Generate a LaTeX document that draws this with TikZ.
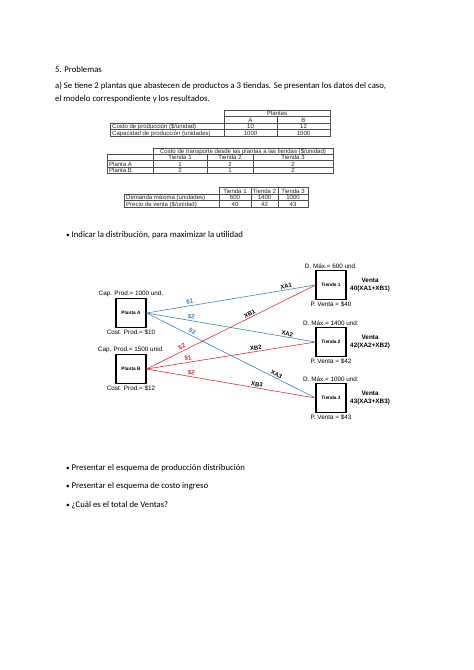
\documentclass[tikz,border=0pt]{standalone}
\usepackage{fontspec}
\setmainfont{Carlito}
\newfontfamily\tablefont{Liberation Sans}
\usetikzlibrary{positioning}
\definecolor{flowblue}{HTML}{3F86BC}
\definecolor{flowred}{HTML}{D7343F}
\definecolor{rulegray}{HTML}{4D4D4D}
\tikzset{
  para/.style={anchor=base west, inner sep=0pt, font=\fontsize{11}{13}\selectfont},
  cell/.style={inner sep=0pt, text height=0.72em, text depth=0.1em, text=black!85,
    font=\tablefont\fontsize{7.6}{8}\selectfont},
  tabrule/.style={draw=rulegray, line width=0.45pt},
  sitebox/.style={draw, line width=1.3pt, minimum width=1.33cm, minimum height=1.28cm,
    inner sep=0pt, font=\tablefont\bfseries\fontsize{6}{7}\selectfont},
  note/.style={inner sep=0.5pt, font=\tablefont\fontsize{8}{9}\selectfont},
  sale/.style={inner sep=0.5pt, align=center, font=\tablefont\bfseries\fontsize{8}{10}\selectfont},
  flowA/.style={draw=flowblue, line width=0.75pt},
  flowB/.style={draw=flowred, line width=0.75pt},
  cost/.style={sloped, above, inner sep=1.5pt, font=\tablefont\bfseries\fontsize{8}{8}\selectfont},
  qty/.style={sloped, above, inner sep=1.5pt, font=\tablefont\bfseries\fontsize{7.5}{8}\selectfont}
}

\begin{document}
\begin{tikzpicture}[x=0.04432cm, y=-0.04432cm]
  \fill[white] (0,0) rectangle (474,670);
  \useasboundingbox (0,0) rectangle (474,670);

  % text of the page
  \node[para] (title) at (55,72) {5. Problemas};
  \node[para] (intro1) at (55,88) {a) Se tiene 2 plantas que abastecen de productos a 3 tiendas. Se presentan los datos del caso,};
  \node[para] (intro2) at (55,101) {el modelo correspondiente y los resultados.};

  % table: plantas
  \draw[tabrule] (224,110) rectangle (330,136);
  \draw[tabrule] (110,123) rectangle (224,136);
  \draw[tabrule] (224,116.5) -- (330,116.5) (224,123) -- (330,123)
    (110,129.5) -- (330,129.5) (277,116.5) -- (277,136);
  \node[cell] (plantas) at (277,113.25) {Plantas};
  \node[cell] (colA) at (250.5,119.75) {A};
  \node[cell] (colB) at (303.5,119.75) {B};
  \node[cell, anchor=west] (costrow) at (112,126.25) {Costo de producción (\$/unidad)};
  \node[cell, anchor=west] (caprow) at (112,132.75) {Capacidad de producción (unidades)};
  \foreach \v/\x/\y [count=\i] in {10/250.5/126.25, 12/303.5/126.25, 1000/250.5/132.75, 1500/303.5/132.75}
    \node[cell] (pv\i) at (\x,\y) {\v};

  % table: transporte
  \draw[tabrule] (153,148) rectangle (333,154.3);
  \draw[tabrule] (107,154.3) rectangle (333,173.2);
  \draw[tabrule] (107,160.6) -- (333,160.6) (107,166.9) -- (333,166.9)
    (153,154.3) -- (153,173.2) (207,154.3) -- (207,173.2) (253,154.3) -- (253,173.2);
  \node[cell] (transp) at (243,151.15) {Costo de transporte desde las plantas a las tiendas (\$/unidad)};
  \foreach \x [count=\i] in {180,230,293}
    \node[cell] (th\i) at (\x,157.45) {Tienda \i};
  \node[cell, anchor=west] (rowA) at (109,163.75) {Planta A};
  \node[cell, anchor=west] (rowB) at (109,170.05) {Planta B};
  \foreach \v/\x/\y [count=\i] in {1/180/163.75, 2/230/163.75, 2/293/163.75, 2/180/170.05, 1/230/170.05, 2/293/170.05}
    \node[cell] (tv\i) at (\x,\y) {\v};

  % table: demanda y precio
  \draw[tabrule] (219,187.5) rectangle (308,207);
  \draw[tabrule] (124,194) rectangle (219,207);
  \draw[tabrule] (219,194) -- (308,194) (124,200.5) -- (308,200.5)
    (251,187.5) -- (251,207) (278,187.5) -- (278,207);
  \foreach \x [count=\i] in {235,264.5,293}
    \node[cell] (dh\i) at (\x,190.75) {Tienda \i};
  \node[cell, anchor=west] (demrow) at (126,197.25) {Demanda máxima (unidades)};
  \node[cell, anchor=west] (prirow) at (126,203.75) {Precio de venta (\$/unidad)};
  \foreach \v/\x/\y [count=\i] in {600/235/197.25, 1400/264.5/197.25, 1000/293/197.25, 40/235/203.75, 42/264.5/203.75, 43/293/203.75}
    \node[cell] (dv\i) at (\x,\y) {\v};

  \node[para] (task1) at (66,237) {{\small\textbullet} Indicar la distribución, para maximizar la utilidad};

  % plantas y tiendas
  \node[sitebox] (plantA) at (131,313) {Planta A};
  \node[sitebox] (plantB) at (131,369) {Planta B};
  \node[sitebox] (shop1) at (331,285) {Tienda 1};
  \node[sitebox] (shop2) at (331,342) {Tienda 2};
  \node[sitebox] (shop3) at (331,398) {Tienda 3};

  \node[note, above=1pt of plantA] (capA) {Cap. Prod.= 1000 und.};
  \node[note, below=2pt of plantA] (prodA) {Cost. Prod.= \$10};
  \node[note, above=1pt of plantB] (capB) {Cap. Prod.= 1500 unid.};
  \node[note, below=2pt of plantB] (prodB) {Cost. Prod.= \$12};

  \node[note, above=1pt of shop1] (dem1) {D. Máx.= 600 und.};
  \node[note, below=2pt of shop1] (pv1) {P. Venta = \$40};
  \node[note, above=1pt of shop2] (dem2) {D. Máx.= 1400 und.};
  \node[note, below=2pt of shop2] (pv2) {P. Venta = \$42};
  \node[note, above=1pt of shop3] (dem3) {D. Máx.= 1000 und.};
  \node[note, below=2pt of shop3] (pv3) {P. Venta = \$43};

  \node[sale, right=4pt of shop1] (sale1) {Venta\\40(XA1+XB1)};
  \node[sale, right=4pt of shop2] (sale2) {Venta\\42(XA2+XB2)};
  \node[sale, right=4pt of shop3] (sale3) {Venta\\43(XA3+XB3)};

  % rutas
  \draw[flowA] (plantA.east) -- node[cost, pos=0.26, text=flowblue] {\$1} node[qty, pos=0.83] {XA1} (shop1.west);
  \draw[flowA] (plantA.east) -- node[cost, pos=0.26, text=flowblue] {\$2} node[qty, pos=0.83] {XA2} (shop2.west);
  \draw[flowA] (plantA.east) -- node[cost, pos=0.26, text=flowblue] {\$2} node[qty, pos=0.76] {XA3} (shop3.west);
  \draw[flowB] (plantB.east) -- node[cost, pos=0.22, text=flowred] {\$2} node[qty, pos=0.62] {XB1} (shop1.west);
  \draw[flowB] (plantB.east) -- node[cost, pos=0.25, text=flowred] {\$1} node[qty, pos=0.65] {XB2} (shop2.west);
  \draw[flowB] (plantB.east) -- node[cost, pos=0.26, text=flowred] {\$2} node[qty, pos=0.65] {XB3} (shop3.west);

  \node[para] (task2) at (66,470) {{\small\textbullet} Presentar el esquema de producción distribución};
  \node[para] (task3) at (66,488) {{\small\textbullet} Presentar el esquema de costo ingreso};
  \node[para] (task4) at (66,507) {{\small\textbullet} ¿Cuál es el total de Ventas?};
\end{tikzpicture}
\end{document}
